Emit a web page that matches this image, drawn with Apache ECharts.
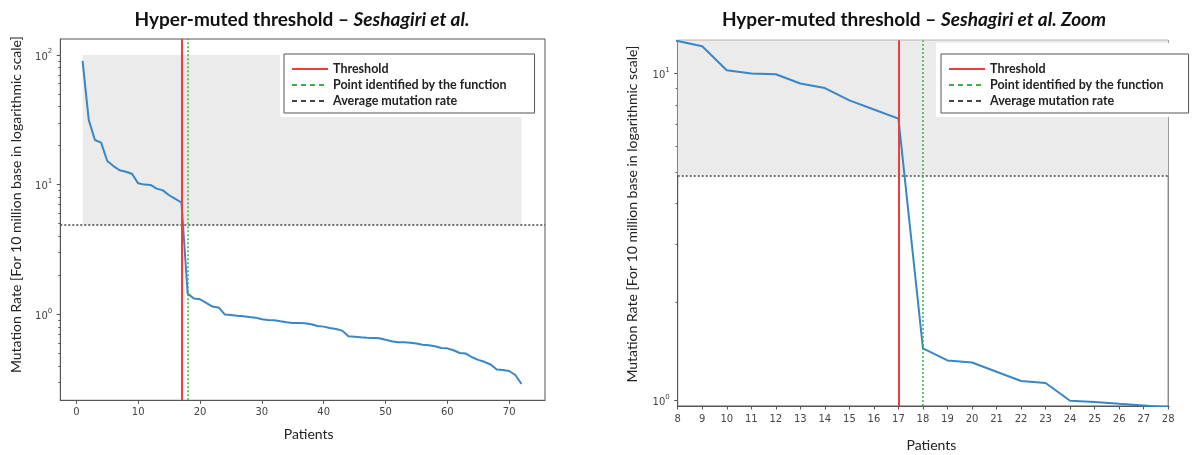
<!DOCTYPE html>
<html>
<head>
<meta charset="utf-8">
<script src="https://cdn.jsdelivr.net/npm/echarts@6/dist/echarts.min.js"></script>
<style>
  html, body { margin: 0; padding: 0; background: #fff; }
  #chart { width: 1192px; height: 455px; }
</style>
</head>
<body>
<div id="chart"></div>
<script>
// Patients ranked by mutation rate (mutations per 10 million bases)
const patients = [
  1, 2, 3, 4, 5, 6, 7, 8, 9, 10, 11, 12, 13, 14, 15, 16, 17, 18,
  19, 20, 21, 22, 23, 24, 25, 26, 27, 28, 29, 30, 31, 32, 33, 34, 35, 36,
  37, 38, 39, 40, 41, 42, 43, 44, 45, 46, 47, 48, 49, 50, 51, 52, 53, 54,
  55, 56, 57, 58, 59, 60, 61, 62, 63, 64, 65, 66, 67, 68, 69, 70, 71, 72
];
const mutationRate = [
  90, 31.6, 22.1, 21.1, 15.2, 13.9, 12.9, 12.58, 12.12, 10.23, 10.0, 9.95,
  9.32, 9.03, 8.28, 7.76, 7.28, 1.442, 1.325, 1.306, 1.223, 1.146, 1.13, 0.997,
  0.988, 0.976, 0.965, 0.953, 0.942, 0.915, 0.905, 0.90, 0.883, 0.868, 0.857, 0.857,
  0.852, 0.837, 0.813, 0.803, 0.784, 0.77, 0.748, 0.676, 0.672, 0.665, 0.66, 0.657,
  0.653, 0.637, 0.619, 0.608, 0.608, 0.604, 0.594, 0.583, 0.576, 0.566, 0.55, 0.546,
  0.528, 0.503, 0.498, 0.466, 0.445, 0.43, 0.41, 0.375, 0.372, 0.365, 0.34, 0.29
];

const thresholdPatient = 17;     // last hyper-muted patient
const identifiedPatient = 18;    // point returned by the detection function
const averageRate = 4.88;        // average mutation rate
const bandPatients = [1, 72];    // hyper-muted band, x extent
const bandTop = 100;             // hyper-muted band, upper rate

// Tick values
const overviewXTicks = [0, 10, 20, 30, 40, 50, 60, 70];
const overviewMajorY = [1, 10, 100];
const overviewMinorY = [0.3, 0.4, 0.5, 0.6, 0.7, 0.8, 0.9,
  2, 3, 4, 5, 6, 7, 8, 9, 20, 30, 40, 50, 60, 70, 80, 90];
const zoomMajorY = [1, 10];
const zoomMinorY = [2, 3, 4, 5, 6, 7, 8, 9];

const legendNames = ['Threshold', 'Point identified by the function', 'Average mutation rate'];
const titleMain = 'Hyper-muted threshold – ';
const titleAuthor = 'Seshagiri et al.';
const yName = 'Mutation Rate [For 10 million base in logarithmic scale]';
const xName = 'Patients';

const AXIS = '#555';
const TICK_FONT = { fontFamily: 'DejaVu Sans', fontSize: 10, color: '#444' };
const LINE_BLUE = '#3a86c4';
const RED = '#f03c3c';
const GREEN = '#3fae4a';
const AVG = '#444';

const points = patients.map((p, i) => [p, mutationRate[i]]);

function powLabel(v) {
  const e = Math.round(Math.log10(v));
  return '{b|10}{s|' + e + '}';
}
const powRich = {
  b: { fontFamily: 'DejaVu Sans', fontSize: 10, color: '#444', lineHeight: 14, verticalAlign: 'bottom' },
  s: { fontFamily: 'DejaVu Sans', fontSize: 7, color: '#444', lineHeight: 14, verticalAlign: 'top' }
};

function xAxisFor(gridIndex, extra) {
  return Object.assign({
    gridIndex, type: 'value',
    axisLine: { show: true, onZero: false, lineStyle: { color: AXIS, width: 1 } },
    axisTick: { show: true, length: 3.5, lineStyle: { color: AXIS } },
    axisLabel: Object.assign({ margin: 7 }, TICK_FONT),
    splitLine: { show: false },
    name: xName, nameLocation: 'middle',
    nameTextStyle: { fontFamily: 'Lato', fontSize: 14, color: '#222' }
  }, extra);
}

function yMajor(gridIndex, min, max, ticks, nameGap, shift) {
  return {
    gridIndex, type: 'log', logBase: 10, min, max, position: 'left', offset: 0,
    axisLine: { show: true, onZero: false, lineStyle: { color: AXIS, width: 1 } },
    axisTick: { show: true, length: 3.5, customValues: ticks, lineStyle: { color: AXIS } },
    axisLabel: { customValues: ticks, margin: 8, formatter: powLabel, rich: powRich },
    splitLine: { show: false },
    minorTick: { show: false },
    name: yName, nameLocation: 'middle', nameGap, nameRotate: 90,
    nameTextStyle: { fontFamily: 'Lato', fontSize: 14, color: '#222', padding: [0, 0, 0, shift] }
  };
}

function yMinor(gridIndex, min, max, ticks) {
  return {
    gridIndex, type: 'log', logBase: 10, min, max, position: 'left', offset: 0,
    axisLine: { show: false, onZero: false },
    axisTick: { show: true, length: 2, customValues: ticks, lineStyle: { color: AXIS } },
    axisLabel: { show: false },
    splitLine: { show: false }
  };
}

function seriesFor(axisIdx, yIdx) {
  const common = { type: 'line', xAxisIndex: axisIdx, yAxisIndex: yIdx, symbol: 'none', silent: true, data: [] };
  const ml = (data, color, width, type) => ({
    silent: true, symbol: ['none', 'none'], label: { show: false },
    emphasis: { disabled: true }, animation: false,
    lineStyle: { color, width, type, opacity: 1 }, data
  });
  return [
    Object.assign({}, common, {
      name: 'Average mutation rate', z: 1,
      lineStyle: { color: AVG, width: 1.5, type: [5, 4] },
      markArea: {
        silent: true, itemStyle: { color: '#ebebeb', opacity: 1 },
        emphasis: { disabled: true },
        data: [[{ xAxis: bandPatients[0], yAxis: averageRate }, { xAxis: bandPatients[1], yAxis: bandTop }]]
      },
      markLine: ml([{ yAxis: averageRate }], AVG, 1.5, [2, 2])
    }),
    Object.assign({}, common, {
      name: 'Threshold', z: 3,
      lineStyle: { color: RED, width: 2, type: 'solid' },
      markLine: ml([{ xAxis: thresholdPatient }], RED, 2, 'solid')
    }),
    Object.assign({}, common, {
      name: 'Point identified by the function', z: 3,
      lineStyle: { color: GREEN, width: 1.5, type: [5, 4] },
      markLine: ml([{ xAxis: identifiedPatient }], GREEN, 1.5, [2, 2])
    }),
    Object.assign({}, common, {
      name: 'Mutation rate', z: 4, data: points,
      lineStyle: { color: LINE_BLUE, width: 2 }
    })
  ];
}

function legendAt(left, top, padRight) {
  return {
    data: legendNames, orient: 'vertical', left, top,
    padding: [8, padRight, 5, 7], itemWidth: 36, itemHeight: 14, itemGap: 2,
    backgroundColor: '#fff', borderColor: '#555', borderWidth: 1, borderRadius: 0,
    itemStyle: { opacity: 0, borderWidth: 0 },
    textStyle: { fontFamily: 'Lato', fontWeight: 'bold', fontSize: 12.5, color: '#222', lineHeight: 14 },
    selectedMode: false, z: 6
  };
}

function titleText(x, y, author) {
  return {
    type: 'text', x, y, z: 10, silent: true,
    style: {
      text: '{m|' + titleMain + '}{a|' + author + '}',
      align: 'center', verticalAlign: 'middle',
      rich: {
        m: { fontFamily: 'Lato', fontWeight: 'bold', fontSize: 19, fill: '#111' },
        a: { fontFamily: 'Lato', fontWeight: 'bold', fontStyle: 'italic', fontSize: 19, fill: '#111' }
      }
    }
  };
}

const chart = echarts.init(document.getElementById('chart'), null, { renderer: 'canvas' });
chart.setOption({
  animation: false,
  backgroundColor: '#fff',
  grid: [
    { left: 60.3, top: 39, width: 484.7, height: 361.3, show: true, borderColor: AXIS, borderWidth: 1, backgroundColor: 'transparent', outerBoundsMode: 'none', containLabel: false },
    { left: 677.7, top: 40.3, width: 490.5, height: 365.7, show: true, borderColor: AXIS, borderWidth: 1, backgroundColor: 'transparent', outerBoundsMode: 'none', containLabel: false }
  ],
  xAxis: [
    xAxisFor(0, {
      min: -2.6, max: 75.8, nameGap: 27,
      axisTick: { show: true, length: 3.5, customValues: overviewXTicks, lineStyle: { color: AXIS } },
      axisLabel: Object.assign({ margin: 7, customValues: overviewXTicks }, TICK_FONT),
      nameTextStyle: { fontFamily: 'Lato', fontSize: 14, color: '#222', padding: [0, 0, 0, 12] }
    }),
    xAxisFor(1, {
      min: 8, max: 28, interval: 1, nameGap: 32,
      axisLabel: Object.assign({ margin: 8 }, TICK_FONT),
      nameTextStyle: { fontFamily: 'Lato', fontSize: 14, color: '#222', padding: [0, 0, 0, 17] }
    })
  ],
  yAxis: [
    yMajor(0, 0.217, 132.8, overviewMajorY, 37, 30),
    yMinor(0, 0.217, 132.8, overviewMinorY),
    yMajor(1, 0.961, 12.64, zoomMajorY, 38, 18),
    yMinor(1, 0.961, 12.64, zoomMinorY)
  ],
  legend: [legendAt(284, 54, 28), legendAt(941, 54, 25)],
  series: seriesFor(0, 0).concat(seriesFor(1, 2)),
  graphic: [
    titleText(302, 20, titleAuthor),
    titleText(914, 20, titleAuthor + ' Zoom'),
    { type: 'rect', z: 5, silent: true, shape: { x: 280, y: 50, width: 260, height: 67 }, style: { fill: '#fff' } },
    { type: 'rect', z: 5, silent: true, shape: { x: 936, y: 43, width: 256, height: 74 }, style: { fill: '#fff' } }
  ]
});
</script>
</body>
</html>
